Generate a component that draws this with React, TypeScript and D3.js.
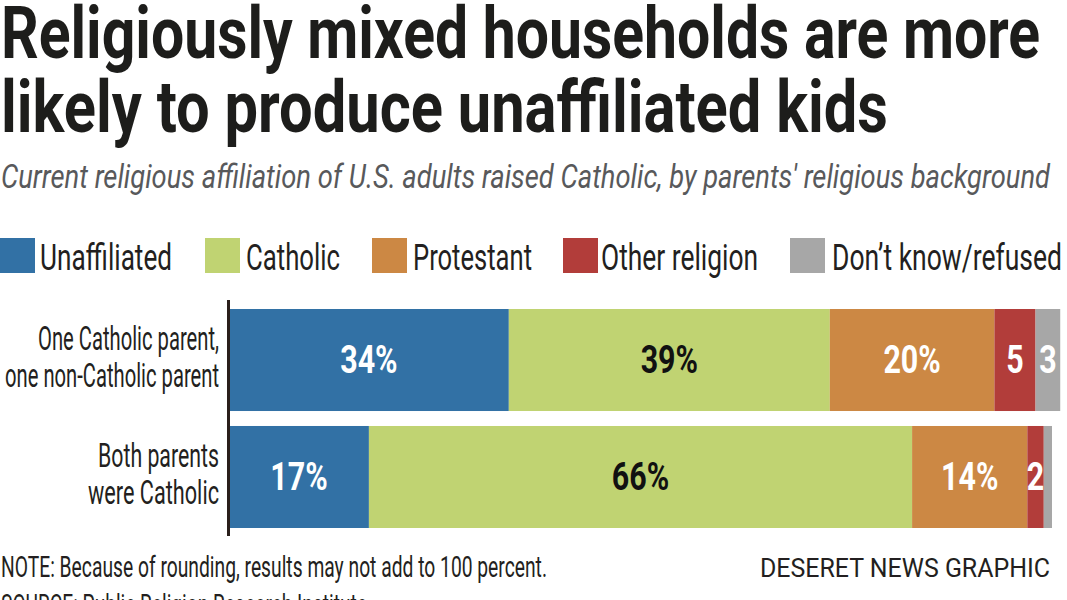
import React from "react";
import * as d3 from "d3";

// data
const rowLabels = [
    ["One Catholic parent,", "one non-Catholic parent"],
    ["Both parents", "were Catholic"],
];
const rowKeys = ["mixed", "both"];
const seriesNames = ["Unaffiliated", "Catholic", "Protestant", "Other religion", "Don\u2019t know/refused"];
const unaffiliated = [34, 17];
const catholic = [39, 66];
const protestant = [20, 14];
const otherReligion = [5, 2];
const dontKnow = [3, 1];

const colors = ["#3271a5", "#c0d372", "#cc8844", "#b23d3a", "#a7a7a7"];
const labelColors = ["#ffffff", "#111111", "#ffffff", "#ffffff", "#ffffff"];

const W = 1067;
const H = 600;
const FONT = "Roboto, 'Noto Sans', sans-serif";

const legendLayout = [
    { sw: 0, tx: 40, tw: 132 },
    { sw: 205, tx: 246, tw: 94 },
    { sw: 372, tx: 413, tw: 119 },
    { sw: 563, tx: 601, tw: 157 },
    { sw: 790, tx: 832, tw: 230 },
];
const rowLabelWidths = [
    [181, 214],
    [121, 131],
];

function fmt(v: number) {
    if (v >= 10) return `${v}%`;
    if (v >= 2) return `${v}`;
    return "";
}

export default function App() {
    const table = rowKeys.map((k, i) => ({
        key: k,
        s0: unaffiliated[i],
        s1: catholic[i],
        s2: protestant[i],
        s3: otherReligion[i],
        s4: dontKnow[i],
    }));
    const keys = ["s0", "s1", "s2", "s3", "s4"];
    const stacked = d3.stack<any>().keys(keys)(table);

    const x = d3.scaleLinear().domain([0, 100]).range([229, 1052]);
    const y = d3.scaleBand().domain(rowKeys).range([309, 528]).paddingInner(0.128).paddingOuter(0);

    return (
        <svg
            width={W}
            height={H}
            style={{ position: "absolute", left: 0, top: 0, background: "#fff" }}
            fontFamily={FONT}
        >
            {/* title */}
            <text x={1} y={58} fontSize={72} fontWeight={700} fill="#1d1d1b" textLength={1039} lengthAdjust="spacingAndGlyphs">
                Religiously mixed households are more
            </text>
            <text x={1} y={132} fontSize={72} fontWeight={700} fill="#1d1d1b" textLength={887} lengthAdjust="spacingAndGlyphs">
                likely to produce unaffiliated kids
            </text>
            <text x={1} y={188} fontSize={33} fontStyle="italic" fill="#58595b" textLength={1049} lengthAdjust="spacingAndGlyphs">
                Current religious affiliation of U.S. adults raised Catholic, by parents' religious background
            </text>

            {/* legend */}
            {seriesNames.map((name, i) => (
                <g key={name}>
                    <rect x={legendLayout[i].sw} y={238} width={35} height={35} fill={colors[i]} />
                    <text
                        x={legendLayout[i].tx}
                        y={270}
                        fontSize={36}
                        fill="#231f20"
                        textLength={legendLayout[i].tw}
                        lengthAdjust="spacingAndGlyphs"
                    >
                        {name}
                    </text>
                </g>
            ))}

            {/* bars */}
            {stacked.map((layer, si) => (
                <g key={layer.key}>
                    {layer.map((d, ri) => (
                        <rect
                            key={ri}
                            x={x(d[0])}
                            y={y(d.data.key)}
                            width={x(d[1]) - x(d[0])}
                            height={y.bandwidth()}
                            fill={colors[si]}
                        />
                    ))}
                </g>
            ))}
            {stacked.map((layer, si) => (
                <g key={"l" + layer.key}>
                    {layer.map((d, ri) => {
                        const v = d[1] - d[0];
                        const cx = (x(d[0]) + x(d[1])) / 2;
                        const cy = (y(d.data.key) || 0) + y.bandwidth() / 2 + 13;
                        return (
                            <text
                                key={ri}
                                transform={`translate(${cx},${cy}) scale(0.8,1)`}
                                textAnchor="middle"
                                fontSize={38}
                                fontWeight={700}
                                fill={labelColors[si]}
                            >
                                {fmt(v)}
                            </text>
                        );
                    })}
                </g>
            ))}

            {/* axis line */}
            <line x1={228.5} x2={228.5} y1={300} y2={536} stroke="#2a1f1b" strokeWidth={3} />

            {/* row labels */}
            {rowKeys.map((k, i) => {
                const cy = (y(k) || 0) + y.bandwidth() / 2;
                return (
                    <g key={k}>
                        {rowLabels[i].map((line, li) => (
                            <text
                                key={li}
                                x={219 - rowLabelWidths[i][li]}
                                y={cy - 10 + li * 37}
                                fontSize={34}
                                fill="#231f20"
                                textLength={rowLabelWidths[i][li]}
                                lengthAdjust="spacingAndGlyphs"
                            >
                                {line}
                            </text>
                        ))}
                    </g>
                );
            })}

            {/* footer */}
            <text x={1} y={577} fontSize={29} fill="#231f20" textLength={546} lengthAdjust="spacingAndGlyphs">
                NOTE: Because of rounding, results may not add to 100 percent.
            </text>
            <text x={1} y={615} fontSize={29} fill="#231f20" textLength={366} lengthAdjust="spacingAndGlyphs">
                SOURCE: Public Religion Research Institute
            </text>
            <text x={760} y={577} fontSize={26} fill="#231f20" textLength={290} lengthAdjust="spacingAndGlyphs">
                DESERET NEWS GRAPHIC
            </text>
        </svg>
    );
}
